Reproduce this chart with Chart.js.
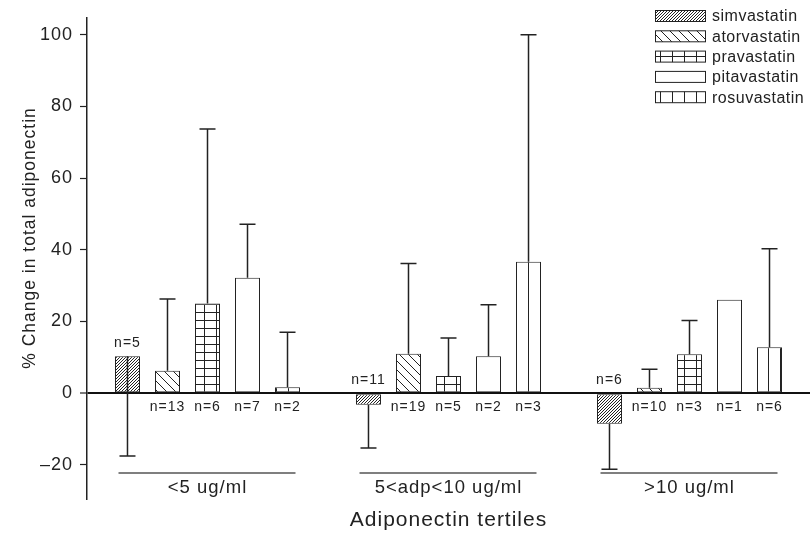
<!DOCTYPE html>
<html>
<head>
<meta charset="utf-8">
<script src="https://cdn.jsdelivr.net/npm/chart.js@4.4.1/dist/chart.umd.min.js"></script>
<style>
  html, body { margin: 0; padding: 0; background: #fff; }
  #wrap { width: 810px; height: 534px; }
</style>
</head>
<body>
<div id="wrap"><canvas id="myChart" width="810" height="534"></canvas></div>
<script>
// data
const groups = ["<5 ug/ml", "5<adp<10 ug/ml", ">10 ug/ml"];
const drugs = ["simvastatin", "atorvastatin", "pravastatin", "pitavastatin", "rosuvastatin"];
const yTicks = [-20, 0, 20, 40, 60, 80, 100];

const simVals = [10.3, -3.2, -8.5];
const atorVals = [6.3, 11.0, 1.5];
const pravVals = [25.0, 4.8, 10.9];
const pitaVals = [32.2, 10.3, 26.1];
const rosuVals = [1.7, 36.7, 12.8];

// where each error bar ends (null = no bar)
const simErr = [-17.5, -15.3, -21.2];
const atorErr = [26.3, 36.2, 6.7];
const pravErr = [73.7, 15.4, 20.3];
const pitaErr = [47.1, 24.7, null];
const rosuErr = [17.0, 100.0, 40.3];

const simN = [5, 11, 6];
const atorN = [13, 19, 10];
const pravN = [6, 5, 3];
const pitaN = [7, 2, 1];
const rosuN = [2, 3, 6];

const yTitle = "% Change in total adiponectin";

const ink = "#222";
const fontFamily = '"Liberation Sans", Arial, sans-serif';
Chart.defaults.font.family = fontFamily;
Chart.defaults.color = ink;

const canvas = document.getElementById("myChart");

const makePattern = (w, h, drawTile) => {
    const c = document.createElement("canvas");
    c.width = w;
    c.height = h;
    const g = c.getContext("2d");
    g.fillStyle = "#fff";
    g.fillRect(0, 0, w, h);
    g.strokeStyle = ink;
    g.fillStyle = ink;
    g.lineWidth = 1;
    drawTile(g, w, h);
    return canvas.getContext("2d").createPattern(c, "repeat");
};

const simPattern = makePattern(3, 3, (g, w, h) => {
    g.beginPath();
    [-w, 0, w].forEach((k) => {
        g.moveTo(k, h);
        g.lineTo(k + w, 0);
    });
    g.stroke();
});
const atorPattern = makePattern(9, 9, (g, w, h) => {
    g.beginPath();
    [-w, 0, w].forEach((k) => {
        g.moveTo(k, 0);
        g.lineTo(k + w, h);
    });
    g.stroke();
});
const pravPattern = makePattern(12, 8, (g, w, h) => {
    g.fillRect(0, 0, 1, h);
    g.fillRect(0, 0, w, 1);
});
const rosuPattern = makePattern(12, 4, (g, w, h) => {
    g.fillRect(0, 0, 1, h);
});

const fills = [simPattern, atorPattern, pravPattern, "#fff", rosuPattern];
const values = [simVals, atorVals, pravVals, pitaVals, rosuVals];
const errors = [simErr, atorErr, pravErr, pitaErr, rosuErr];
const counts = [simN, atorN, pravN, pitaN, rosuN];

const datasets = drugs.map((drug, i) => ({
    label: drug,
    data: values[i],
    backgroundColor: fills[i],
    borderColor: ink,
    borderWidth: 1,
    borderSkipped: false,
    errEnd: errors[i],
    nums: counts[i],
}));

const spacingPlugin = {
    id: "spacing",
    beforeUpdate(chart) {
        chart.ctx.letterSpacing = "1px";
    },
    beforeDraw(chart) {
        chart.ctx.letterSpacing = "1px";
    },
};

const errorBarsPlugin = {
    id: "errorBars",
    afterDatasetsDraw(chart) {
        const ctx = chart.ctx;
        const yScale = chart.scales.y;
        const zero = yScale.getPixelForValue(0);
        ctx.save();
        ctx.strokeStyle = ink;
        ctx.lineWidth = 1.5;
        chart.data.datasets.forEach((ds, i) => {
            chart.getDatasetMeta(i).data.forEach((bar, j) => {
                const end = ds.errEnd[j];
                if (end == null) return;
                const yEnd = yScale.getPixelForValue(end);
                ctx.beginPath();
                ctx.moveTo(bar.x, bar.y);
                ctx.lineTo(bar.x, yEnd);
                ctx.moveTo(bar.x - 8, yEnd);
                ctx.lineTo(bar.x + 8, yEnd);
                ctx.stroke();
            });
        });
        // n= labels
        ctx.fillStyle = ink;
        ctx.font = "14px " + fontFamily;
        ctx.letterSpacing = "1px";
        ctx.textAlign = "center";
        ctx.textBaseline = "middle";
        chart.data.datasets.forEach((ds, i) => {
            chart.getDatasetMeta(i).data.forEach((bar, j) => {
                const y = i === 0 ? Math.min(bar.y, zero) - 13 : zero + 14;
                ctx.fillText("n=" + ds.nums[j], bar.x, y);
            });
        });
        ctx.restore();
    },
};

const extrasPlugin = {
    id: "extras",
    afterDraw(chart) {
        const ctx = chart.ctx;
        const xScale = chart.scales.x;
        const area = chart.chartArea;
        ctx.save();
        // lines over the group labels
        ctx.strokeStyle = "#555";
        ctx.lineWidth = 1.5;
        groups.forEach((g, j) => {
            const cx = xScale.getPixelForValue(j);
            ctx.beginPath();
            ctx.moveTo(cx - 89, area.bottom - 26);
            ctx.lineTo(cx + 88, area.bottom - 26);
            ctx.stroke();
        });
        // y axis title
        ctx.fillStyle = ink;
        ctx.font = "17.5px " + fontFamily;
        ctx.letterSpacing = "1px";
        ctx.textAlign = "center";
        ctx.textBaseline = "middle";
        ctx.save();
        ctx.translate(30, 238);
        ctx.rotate(-Math.PI / 2);
        ctx.fillText(yTitle, 0, 0);
        ctx.restore();
        // legend
        ctx.font = "16px " + fontFamily;
        ctx.letterSpacing = "0.5px";
        ctx.textAlign = "left";
        ctx.lineWidth = 1;
        chart.data.datasets.forEach((ds, i) => {
            const y = 16 + i * 20.3;
            ctx.fillStyle = ds.backgroundColor;
            ctx.fillRect(655, y - 5.5, 50, 11);
            ctx.strokeStyle = ink;
            ctx.strokeRect(655.5, y - 5.5, 50, 11);
            ctx.fillStyle = ink;
            ctx.fillText(ds.label, 712, y + 1);
        });
        ctx.restore();
    },
};

new Chart(canvas, {
    type: "bar",
    data: {
        labels: groups,
        datasets: datasets,
    },
    options: {
        responsive: false,
        animation: false,
        devicePixelRatio: 1,
        layout: { padding: { top: 12, left: 0, right: 0, bottom: 0 } },
        datasets: {
            bar: { categoryPercentage: 0.83, barPercentage: 0.625 },
        },
        plugins: {
            legend: { display: false },
            tooltip: { enabled: false },
        },
        scales: {
            x: {
                offset: true,
                grid: { display: false, drawTicks: false },
                border: { display: false },
                ticks: {
                    mirror: true,
                    padding: 0,
                    maxRotation: 0,
                    autoSkip: false,
                    font: { size: 18.5 },
                },
                title: {
                    display: true,
                    text: "Adiponectin tertiles",
                    font: { size: 21 },
                    padding: { top: 0, bottom: 1 },
                },
                afterFit: (scale) => {
                    scale.height = 35;
                },
            },
            y: {
                min: -29.5,
                max: 104.7,
                afterBuildTicks: (scale) => {
                    scale.ticks = yTicks.map((v) => ({ value: v }));
                },
                grid: {
                    drawOnChartArea: true,
                    color: (c) => (c.tick && c.tick.value === 0 ? "#111" : "rgba(0,0,0,0)"),
                    lineWidth: (c) => (c.tick && c.tick.value === 0 ? 2 : 1),
                    tickColor: ink,
                    tickLength: 7,
                    tickWidth: 1.2,
                },
                border: { display: true, color: ink, width: 1.5 },
                ticks: {
                    padding: 7,
                    font: { size: 18 },
                    callback: (v) => (v < 0 ? "\u2013" + Math.abs(v) : String(v)),
                },
                afterFit: (scale) => {
                    scale.width = 87;
                },
            },
        },
    },
    plugins: [spacingPlugin, errorBarsPlugin, extrasPlugin],
});
</script>
</body>
</html>
